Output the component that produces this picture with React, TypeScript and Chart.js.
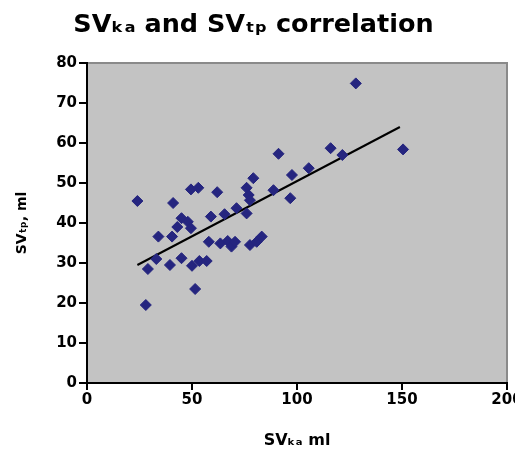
import React, { useEffect, useRef } from 'react';
import { Chart, registerables } from 'chart.js';

Chart.register(...registerables);

// SV measured by method KA (x) and by method TP (y), ml
const svKA = [24, 28, 29, 33, 34, 39.5, 40.5, 41, 43, 45, 45, 48, 49.5, 49.5, 50, 51.5, 53, 53.5, 57, 58, 59, 62, 63.5, 65.5, 67, 68.8, 70.5, 71.2, 76, 76, 77, 77.6, 77.6, 80.8, 83.2, 79.2, 88.8, 91.2, 96.8, 97.6, 105.6, 116, 121.6, 128, 150.5];
const svTP = [45.5, 19.5, 28.5, 31, 36.6, 29.5, 36.6, 45, 39, 41.2, 31.2, 40.3, 38.7, 48.4, 29.3, 23.5, 48.8, 30.5, 30.5, 35.3, 41.6, 47.7, 34.9, 42.2, 35.5, 34.1, 35.3, 43.7, 42.4, 48.8, 47, 45.7, 34.5, 35.3, 36.6, 51.2, 48.2, 57.3, 46.2, 52, 53.7, 58.7, 57, 74.9, 58.4];

// Linear trend line end points
const trendX = [24, 149];
const trendY = [29.5, 64];

const titleText = 'SVₖₐ and SVₜₚ correlation';
const xTitle = 'SVₖₐ ml';
const yTitle = 'SVₜₚ, ml';

const FONT = '"DejaVu Sans", "Liberation Sans", Arial, sans-serif';

const plotBg = {
  id: 'plotBg',
  beforeDraw(chart: any) {
    const { ctx, chartArea } = chart;
    const { left, top, right, bottom } = chartArea;
    ctx.save();
    ctx.fillStyle = '#c3c3c3';
    ctx.fillRect(left, top, right - left, bottom - top);
    ctx.strokeStyle = '#8a8a8a';
    ctx.lineWidth = 2;
    ctx.beginPath();
    ctx.moveTo(left, top);
    ctx.lineTo(right, top);
    ctx.lineTo(right, bottom);
    ctx.stroke();
    ctx.restore();
  },
};

export default function App() {
  const ref = useRef<HTMLCanvasElement | null>(null);

  useEffect(() => {
    if (!ref.current) return;
    const points = svKA.map((x, i) => ({ x, y: svTP[i] }));
    const trend = trendX.map((x, i) => ({ x, y: trendY[i] }));
    const chart = new Chart(ref.current, {
      type: 'scatter',
      data: {
        datasets: [
          {
            label: 'SV',
            data: points,
            pointStyle: 'rectRot',
            pointRadius: 5.5,
            backgroundColor: '#25257f',
            borderColor: '#25257f',
            borderWidth: 1,
          },
          {
            label: 'Trend',
            data: trend,
            showLine: true,
            borderColor: '#000000',
            borderWidth: 2,
            pointRadius: 0,
            fill: false,
          },
        ],
      },
      options: {
        responsive: false,
        animation: false,
        layout: { padding: { left: 0, right: 8, top: 0, bottom: 0 } },
        plugins: {
          legend: { display: false },
          tooltip: { enabled: false },
          title: {
            display: true,
            text: titleText,
            color: '#000',
            font: { family: FONT, size: 25.5, weight: 'bold', lineHeight: 1.2 },
            padding: { top: 9.7, bottom: 22.7 },
          },
        },
        scales: {
          x: {
            type: 'linear',
            min: 0,
            max: 200,
            ticks: { stepSize: 50, color: '#000', font: { family: FONT, size: 15, weight: 'bold' }, padding: 1, maxRotation: 0 },
            grid: { display: true, drawOnChartArea: false, drawTicks: true, tickLength: 7, color: '#000', lineWidth: 2 },
            border: { display: true, color: '#000', width: 2 },
            title: { display: true, text: xTitle, color: '#000', font: { family: FONT, size: 16, weight: 'bold', lineHeight: 1.2 }, padding: { top: 0, bottom: -1 } },
            afterFit: (s: any) => {
              s.height = 66;
              s.paddingRight = 0;
              s.paddingLeft = 0;
            },
          },
          y: {
            type: 'linear',
            min: 0,
            max: 80,
            ticks: { stepSize: 10, color: '#000', font: { family: FONT, size: 15, weight: 'bold' }, padding: 2 },
            grid: { display: true, drawOnChartArea: false, drawTicks: true, tickLength: 8, color: '#000', lineWidth: 2 },
            border: { display: true, color: '#000', width: 2 },
            title: { display: true, text: yTitle, color: '#000', font: { family: FONT, size: 14, weight: 'bold', lineHeight: 1.2 }, padding: { top: 14, bottom: 0 } },
            afterFit: (s: any) => {
              s.width = 87;
            },
          },
        },
      },
      plugins: [plotBg],
    } as any);
    return () => chart.destroy();
  }, []);

  return (
    <div style={{ position: 'fixed', left: 0, top: 0, width: 515, height: 449, background: '#fff' }}>
      <canvas ref={ref} width={515} height={449} style={{ display: 'block', width: 515, height: 449 }} />
    </div>
  );
}
